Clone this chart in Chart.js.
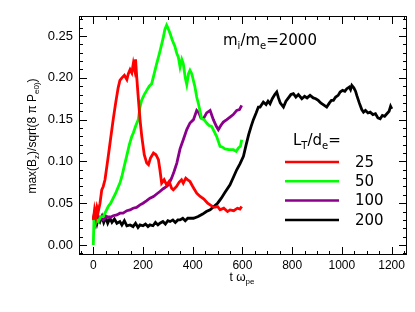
<!DOCTYPE html>
<html>
<head>
<meta charset="utf-8">
<script src="https://cdn.jsdelivr.net/npm/chart.js@4.4.0/dist/chart.umd.min.js"></script>
<style>
  html, body { margin: 0; padding: 0; background: #fff; }
  #wrap { width: 415px; height: 312px; }
</style>
</head>
<body>
<div id="wrap"><canvas id="chart" width="415" height="312"></canvas></div>
<script>
// values (t ω_pe, max(Bz)/sqrt(8πPe0))
const tRed = [0,5,10,15,20,27,34,40,47,55,62,70,80,90,100,107,115,125,135,141,148,155,161,166,170,175,180,188,195,205,215,222,230,242,252,262,268,275,285,295,305,315,322,335,345,355,362,372,380,389,400,416,430,445,460,470,485,500,510,525,540,550,565,580,590,597];
const vRed = [0.030,0.042,0.034,0.045,0.040,0.050,0.066,0.070,0.078,0.095,0.110,0.128,0.150,0.170,0.188,0.197,0.200,0.203,0.198,0.205,0.210,0.206,0.217,0.210,0.222,0.200,0.180,0.150,0.130,0.108,0.098,0.096,0.104,0.110,0.108,0.102,0.090,0.074,0.078,0.072,0.076,0.068,0.066,0.070,0.075,0.078,0.074,0.080,0.078,0.076,0.070,0.062,0.058,0.055,0.050,0.048,0.045,0.046,0.042,0.044,0.040,0.042,0.041,0.044,0.043,0.046];

const tGreen = [0,3,8,13,20,30,40,50,60,70,80,90,101,107,115,125,134,145,155,161,170,181,188,194,205,215,225,235,245,255,265,275,282,288,295,300,309,318,328,336,342,349,356,362,370,376,383,389,396,409,416,423,436,446,456,466,476,486,496,510,520,530,545,564,575,584,592,597];
const vGreen = [0.000,0.034,0.025,0.030,0.028,0.034,0.034,0.040,0.046,0.050,0.056,0.062,0.070,0.074,0.082,0.095,0.106,0.120,0.130,0.134,0.142,0.150,0.165,0.173,0.180,0.185,0.190,0.193,0.205,0.217,0.228,0.240,0.249,0.258,0.263,0.260,0.253,0.245,0.238,0.229,0.225,0.213,0.222,0.217,0.200,0.192,0.205,0.209,0.205,0.189,0.177,0.169,0.151,0.150,0.146,0.143,0.142,0.136,0.130,0.118,0.117,0.115,0.114,0.114,0.112,0.116,0.118,0.126];

const tPurple = [0,5,10,15,27,40,55,67,80,95,107,120,135,148,160,174,188,200,215,228,242,255,268,280,295,302,315,325,336,349,362,376,389,403,416,425,433,443,456,470,483,495,503,513,523,537,550,563,577,588,597];
const vPurple = [0.032,0.038,0.028,0.036,0.032,0.030,0.034,0.033,0.035,0.036,0.038,0.038,0.041,0.042,0.044,0.045,0.048,0.050,0.053,0.056,0.058,0.061,0.064,0.067,0.070,0.072,0.080,0.088,0.098,0.115,0.126,0.138,0.146,0.150,0.161,0.158,0.152,0.151,0.158,0.161,0.150,0.142,0.138,0.143,0.147,0.150,0.153,0.156,0.161,0.162,0.167];

const tBlack = [0,5,10,15,20,27,35,42,50,58,67,75,85,95,107,115,125,135,148,160,170,180,188,200,210,220,228,240,250,260,268,280,290,300,309,320,330,340,349,360,370,380,389,403,422,440,455,470,485,500,515,530,550,565,577,590,604,615,625,635,644,655,664,671,684,695,703,711,720,730,738,745,752,765,775,785,795,805,815,825,839,850,860,872,885,895,905,915,925,939,950,958,966,975,985,993,1003,1012,1020,1030,1035,1040,1048,1055,1060,1070,1080,1087,1095,1105,1114,1125,1135,1145,1154,1163,1172,1181,1190,1196,1201];
const vBlack = [0.034,0.028,0.033,0.026,0.032,0.028,0.034,0.027,0.033,0.026,0.032,0.027,0.031,0.026,0.028,0.024,0.029,0.023,0.024,0.022,0.026,0.021,0.024,0.023,0.025,0.022,0.024,0.023,0.027,0.024,0.026,0.028,0.025,0.029,0.028,0.030,0.027,0.030,0.030,0.032,0.029,0.032,0.032,0.032,0.034,0.037,0.040,0.042,0.046,0.050,0.056,0.063,0.072,0.082,0.090,0.097,0.106,0.120,0.132,0.142,0.150,0.158,0.165,0.165,0.171,0.168,0.172,0.169,0.175,0.180,0.183,0.176,0.170,0.165,0.172,0.176,0.180,0.181,0.177,0.180,0.175,0.178,0.176,0.179,0.176,0.175,0.173,0.170,0.168,0.165,0.170,0.173,0.173,0.177,0.179,0.183,0.185,0.184,0.187,0.189,0.186,0.191,0.188,0.184,0.179,0.170,0.162,0.159,0.161,0.158,0.159,0.156,0.157,0.152,0.151,0.155,0.154,0.157,0.160,0.166,0.163];

const seriesLabels = ['25', '50', '100', '200'];
const seriesColors = ['#ff0000', '#00ff00', '#8b008b', '#000000'];
const xTicks = [0, 200, 400, 600, 800, 1000, 1200];
const yTicks = [0.00, 0.05, 0.10, 0.15, 0.20, 0.25];

const pairs = (ts, vs) => ts.map((t, i) => ({ x: t, y: vs[i] }));
const allData = [pairs(tRed, vRed), pairs(tGreen, vGreen), pairs(tPurple, vPurple), pairs(tBlack, vBlack)];

// draws text with subscript pieces: parts = [[text, isSub], ...]
function drawRich(ctx, parts, x, y, size, family, align) {
  const subSize = Math.round(size * 0.65);
  let total = 0;
  parts.forEach(p => {
    ctx.font = (p[1] ? subSize : size) + 'px ' + family;
    total += ctx.measureText(p[0]).width;
  });
  let cx = align === 'center' ? x - total / 2 : x;
  ctx.textAlign = 'left';
  ctx.textBaseline = 'alphabetic';
  parts.forEach(p => {
    ctx.font = (p[1] ? subSize : size) + 'px ' + family;
    ctx.fillText(p[0], cx, p[1] ? y + size * 0.25 : y);
    cx += ctx.measureText(p[0]).width;
  });
}

const overlay = {
  id: 'overlay',
  afterDraw(chart) {
    const ctx = chart.ctx;
    const a = chart.chartArea;
    const xs = chart.scales.x, ys = chart.scales.y;
    ctx.save();
    ctx.strokeStyle = '#000';
    ctx.lineWidth = 1;
    ctx.strokeRect(a.left + 0.5, a.top + 0.5, a.right - a.left - 1, a.bottom - a.top - 1);

    ctx.beginPath();
    // x ticks, inward on bottom and top
    for (let v = -50; v <= xs.max; v += 50) {
      const px = Math.round(xs.getPixelForValue(v)) + 0.5;
      const len = v % 200 === 0 ? 8 : 4;
      ctx.moveTo(px, a.bottom); ctx.lineTo(px, a.bottom - len);
      ctx.moveTo(px, a.top); ctx.lineTo(px, a.top + len);
    }
    // y ticks, inward on left and right
    for (let k = -1; k * 0.01 <= ys.max; k++) {
      const py = Math.round(ys.getPixelForValue(k * 0.01)) + 0.5;
      const len = k % 5 === 0 ? 8 : 4;
      ctx.moveTo(a.left, py); ctx.lineTo(a.left + len, py);
      ctx.moveTo(a.right, py); ctx.lineTo(a.right - len, py);
    }
    ctx.stroke();

    ctx.fillStyle = '#000';
    // axis titles
    drawRich(ctx, [['t ω', false], ['pe', true]], 242, 281, 12, '"Liberation Sans", Arial, sans-serif', 'center');
    ctx.save();
    ctx.translate(36, 136);
    ctx.rotate(-Math.PI / 2);
    drawRich(ctx, [['max(B', false], ['z', true], [')/sqrt(8 π P', false], ['e0)', true], [')', false]], 0, 0, 12, '"Liberation Sans", Arial, sans-serif', 'center');
    ctx.restore();

    // annotation
    drawRich(ctx, [['m', false], ['i', true], ['/m', false], ['e', true], ['=2000', false]], 223, 45, 15, '"DejaVu Sans", sans-serif', 'left');

    // legend
    drawRich(ctx, [['L', false], ['T', true], ['/d', false], ['e', true], ['=', false]], 293, 145, 15, '"DejaVu Sans", sans-serif', 'left');
    ctx.font = '15px "DejaVu Sans", sans-serif';
    ctx.textBaseline = 'middle';
    ctx.lineWidth = 2.5;
    seriesLabels.forEach((lab, i) => {
      const y = 162 + i * 19.3;
      ctx.strokeStyle = seriesColors[i];
      ctx.beginPath();
      ctx.moveTo(285, y); ctx.lineTo(339, y);
      ctx.stroke();
      ctx.fillText(lab, 355, y + 1);
    });
    ctx.restore();
  }
};

new Chart(document.getElementById('chart'), {
  type: 'line',
  data: {
    datasets: allData.map((d, i) => ({
      label: seriesLabels[i],
      data: d,
      borderColor: seriesColors[i],
      borderWidth: 2.8,
      pointRadius: 0,
      tension: 0,
      fill: false,
    })),
  },
  options: {
    responsive: false,
    animation: false,
    layout: { padding: { top: 16, right: 8, left: 0, bottom: 0 } },
    plugins: { legend: { display: false }, tooltip: { enabled: false } },
    scales: {
      x: {
        type: 'linear',
        min: -57.5,
        max: 1262,
        afterFit: (s) => { s.height = 57; },
        afterBuildTicks: (s) => { s.ticks = xTicks.map(v => ({ value: v })); },
        grid: { display: false, drawTicks: false },
        border: { display: false },
        ticks: { color: '#000', padding: 3, maxRotation: 0, callback: (v) => String(v), font: { family: '"Liberation Sans", Arial, sans-serif', size: 12 } },
      },
      y: {
        type: 'linear',
        min: -0.012,
        max: 0.274,
        afterFit: (s) => { s.width = 79; },
        afterBuildTicks: (s) => { s.ticks = yTicks.map(v => ({ value: v })); },
        grid: { display: false, drawTicks: false },
        border: { display: false },
        ticks: { color: '#000', padding: 6, callback: (v) => v.toFixed(2), font: { family: '"Liberation Sans", Arial, sans-serif', size: 13 } },
      },
    },
  },
  plugins: [overlay],
});
</script>
</body>
</html>
